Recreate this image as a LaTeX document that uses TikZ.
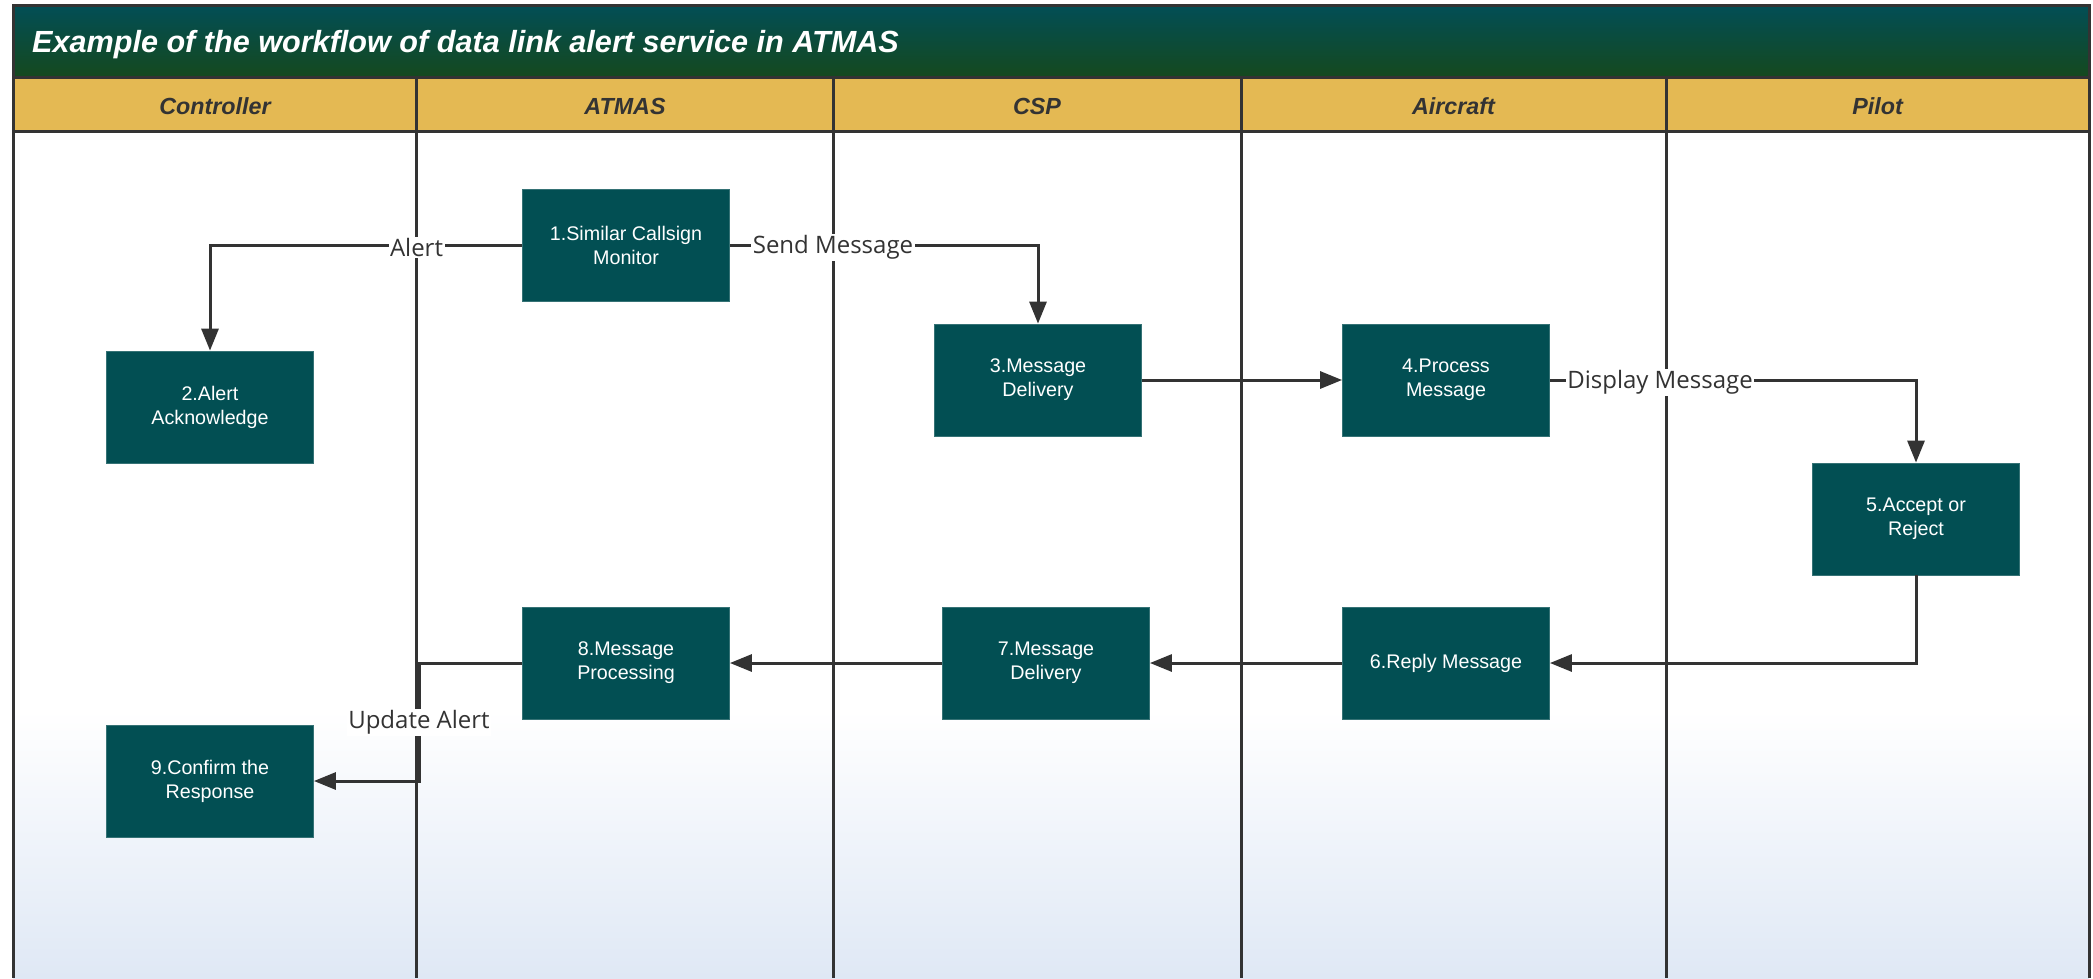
\documentclass[tikz,border=0pt]{standalone}
\usepackage{fontspec}
\setmainfont{Liberation Sans}
\newfontfamily\lblfont{Open Sans}
\usetikzlibrary{arrows.meta,calc}
\definecolor{boxteal}{HTML}{024F53}
\definecolor{titletop}{HTML}{024E56}
\definecolor{titlebot}{HTML}{15491E}
\definecolor{hdrgold}{HTML}{E4B953}
\definecolor{linegray}{HTML}{333333}
\definecolor{bodyblue}{HTML}{DFE8F5}
\begin{document}
\begin{tikzpicture}[x=1pt,y=-1pt,
  stepbox/.style={fill=boxteal, draw=boxteal!80!white, line width=0.8pt, text=white,
    minimum width=207pt, minimum height=112pt, inner sep=0pt, align=center,
    font=\fontsize{19.7}{24}\selectfont},
  flow/.style={draw=linegray, line width=3pt, -{Triangle[length=22pt,width=17pt]}},
  lbl/.style={fill=white, inner sep=1.5pt, text=linegray, font=\lblfont\fontsize{24}{28}\selectfont},
  lane/.style={draw=linegray, line width=3pt},
  hdr/.style={text=linegray, font=\fontsize{23.3}{28}\selectfont\bfseries\itshape},
  titlestyle/.style={text=white, inner sep=0pt, font=\fontsize{30.6}{36}\selectfont\bfseries\itshape}]
\useasboundingbox (0,0) rectangle (2093,978);
\fill[white] (0,0) rectangle (2093,978);
% backgrounds
\shade[top color=titletop, bottom color=titlebot] (13,5) rectangle (2089,77);
\fill[hdrgold] (13,77) rectangle (2089,131);
\fill[white] (13,131) rectangle (2089,710);
\shade[top color=white, bottom color=bodyblue] (13,710) rectangle (2089,978);
% lane coordinates
\coordinate (L1) at (416.5,0);
\coordinate (L2) at (833,0);
\coordinate (L3) at (1241,0);
\coordinate (L4) at (1666,0);
% frame and lanes
\draw[lane] (13,978) -- (13,5) -- (2089,5) -- (2089,978);
\draw[lane] (13,77) -- (2089,77);
\draw[lane] (13,131) -- (2089,131);
\draw[lane] (L1 |- 0,77) -- (L1 |- 0,978);
\draw[lane] (L2 |- 0,77) -- (L2 |- 0,978);
\draw[lane] (L3 |- 0,77) -- (L3 |- 0,978);
\draw[lane] (L4 |- 0,77) -- (L4 |- 0,978);
% title and headers
\node[titlestyle, anchor=west] (title) at (32,45) {Example of the workflow of data link alert service in ATMAS};
\node[hdr] (h1) at (215,106) {Controller};
\node[hdr] (h2) at (625,106) {ATMAS};
\node[hdr] (h3) at (1037,106) {CSP};
\node[hdr] (h4) at (1453.5,106) {Aircraft};
\node[hdr] (h5) at (1877.5,106) {Pilot};
% steps
\node[stepbox] (s1) at (626,245.6) {1.Similar Callsign\\Monitor};
\node[stepbox] (s2) at (210,407) {2.Alert\\Acknowledge};
\node[stepbox] (s3) at (1038,380) {3.Message\\Delivery};
\node[stepbox] (s4) at (1446,380) {4.Process\\Message};
\node[stepbox] (s5) at (1916,519) {5.Accept or\\Reject};
\node[stepbox] (s6) at (1446,663) {6.Reply Message};
\node[stepbox] (s7) at (1046,663) {7.Message\\Delivery};
\node[stepbox] (s8) at (626,663) {8.Message\\Processing};
\node[stepbox] (s9) at (210,781) {9.Confirm the\\Response};
% connectors
\coordinate (c89) at (419,0);
\coordinate (m89) at ($(s8.west)!0.5!(s9.east)$);
\draw[flow] (s1.west) -| (s2.north);
\draw[flow] (s1.east) -| (s3.north);
\draw[flow] (s3.east) -- (s4.west);
\draw[flow] (s4.east) -| (s5.north);
\draw[flow] (s5.south) |- (s6.east);
\draw[flow] (s6.west) -- (s7.east);
\draw[flow] (s7.west) -- (s8.east);
\draw[flow] (s8.west) -- (s8.west -| c89) |- (s9.east);
% labels
\node[lbl, yshift=-2pt] (la) at (L1 |- s1.west) {Alert};
\node[lbl, yshift=-2pt] (lb) at (L2 |- s1.east) {Send Message};
\node[lbl, xshift=-6pt, yshift=-2pt] (lc) at (L4 |- s4.east) {Display Message};
\node[lbl] (ld) at (c89 |- m89) {Update Alert};
\end{tikzpicture}
\end{document}
